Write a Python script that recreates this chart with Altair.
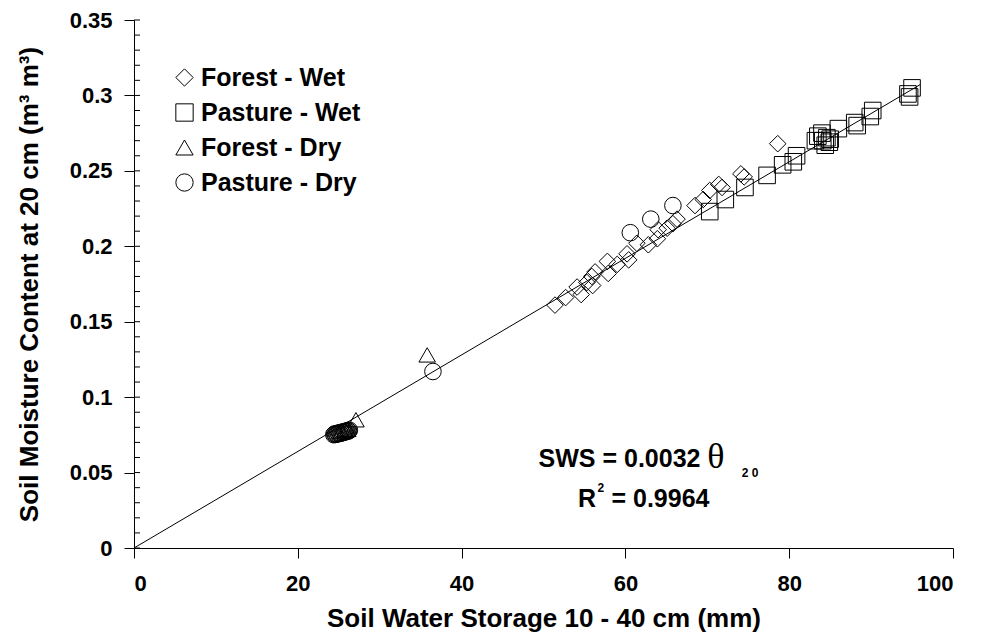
import altair as alt
import pandas as pd

# Forest - Wet (diamonds)
fw_x = [51.4, 52.7, 54.1, 54.6, 55.3, 55.9, 56.0, 56.3, 57.8, 57.9, 59.0, 60.2, 60.4,
        61.4, 62.8, 63.9, 64.0, 65.1, 65.8, 66.3, 68.5, 69.5, 70.3, 71.4, 71.8, 74.1,
        74.5, 78.6]
fw_y = [0.161, 0.166, 0.173, 0.168, 0.176, 0.180, 0.174, 0.183, 0.190, 0.182, 0.188,
        0.195, 0.191, 0.202, 0.201, 0.205, 0.211, 0.212, 0.215, 0.218, 0.227, 0.231,
        0.237, 0.241, 0.239, 0.248, 0.246, 0.268]

# Pasture - Wet (squares)
pw_x = [70.3, 72.2, 74.6, 77.3, 79.2, 80.5, 80.9, 83.2, 83.5, 84.0, 84.1, 84.4, 84.6,
        84.9, 85.0, 86.0, 88.0, 88.3, 89.9, 90.2, 94.5, 94.7, 95.0]
pw_y = [0.223, 0.231, 0.239, 0.247, 0.254, 0.256, 0.260, 0.270, 0.273, 0.275, 0.270,
        0.267, 0.272, 0.269, 0.271, 0.278, 0.282, 0.280, 0.286, 0.290, 0.301, 0.299,
        0.305]

# Forest - Dry (triangles)
fd_x = [25.3, 25.8, 26.1, 27.1, 35.8]
fd_y = [0.0775, 0.0780, 0.0786, 0.0850, 0.1280]

# Pasture - Dry (circles)
pd_x = [24.4, 24.5, 24.6, 24.7, 24.8, 24.9, 25.0, 25.1, 25.2, 25.3, 25.4, 25.5, 25.6,
        25.7, 25.8, 25.9, 26.0, 26.1, 26.2, 26.3, 36.5, 60.6, 63.1, 65.8]
pd_y = [0.0751, 0.0756, 0.0753, 0.0758, 0.0755, 0.0761, 0.0759, 0.0763, 0.0760, 0.0766,
        0.0764, 0.0769, 0.0766, 0.0772, 0.0770, 0.0775, 0.0773, 0.0778, 0.0776, 0.0781,
        0.117, 0.209, 0.218, 0.227]

series_names = ["Forest - Wet", "Pasture - Wet", "Forest - Dry", "Pasture - Dry"]
series_shapes = ["diamond", "square", "triangle-up", "circle"]

# Regression through the origin
slope = 0.0032
r_squared = 0.9964
fit_x = [0, 96]
fit_y = [slope * v for v in fit_x]

y_ticks = [0, 0.05, 0.1, 0.15, 0.2, 0.25, 0.3, 0.35]
y_minor = [i / 100 for i in range(0, 36)]
x_ticks = [0, 20, 40, 60, 80, 100]

rows = []
for name, xs, ys in zip(series_names, [fw_x, pw_x, fd_x, pd_x], [fw_y, pw_y, fd_y, pd_y]):
    for a, b in zip(xs, ys):
        rows.append({"sws": a, "theta": b, "series": name})
pts = pd.DataFrame(rows)
fit = pd.DataFrame({"sws": fit_x, "theta": fit_y})
minor = pd.DataFrame({"theta": y_minor})

W, H = 819, 528
FONT = "Liberation Sans"

x_scale = alt.Scale(domain=[0, 100], nice=False)
y_scale = alt.Scale(domain=[0, 0.35], nice=False)

x_axis = alt.Axis(title="Soil Water Storage 10 - 40 cm (mm)", values=x_ticks,
                  format="d", tickSize=10, labelPadding=15, titlePadding=11, grid=False)
y_axis = alt.Axis(title="Soil Moisture Content at 20 cm (m³ m³)",
                  values=y_ticks, labelExpr="format(datum.value, '~g')",
                  tickSize=10, labelPadding=12, titlePadding=27, grid=False)


def xq():
    return alt.X("sws:Q", scale=x_scale, axis=x_axis)


def yq():
    return alt.Y("theta:Q", scale=y_scale, axis=y_axis)


points = alt.Chart(pts).mark_point(filled=False, strokeWidth=1, color="black", opacity=1,
                                   size=275).encode(
    x=xq(),
    y=yq(),
    shape=alt.Shape("series:N", sort=series_names,
                    scale=alt.Scale(domain=series_names, range=series_shapes),
                    legend=alt.Legend(title=None, orient="none", legendX=38, legendY=45,
                                      labelFontSize=25, labelFont=FONT, labelFontWeight="bold",
                                      labelColor="black", symbolSize=300, symbolStrokeWidth=1,
                                      symbolStrokeColor="black", symbolFillColor="white",
                                      rowPadding=9, labelOffset=4, padding=0)),
)

line = alt.Chart(fit).mark_line(color="black", strokeWidth=1).encode(x=xq(), y=yq())

# Inner minor ticks along the left axis, every 0.01
minor_ticks = alt.Chart(minor).mark_rule(color="black", strokeWidth=1).encode(
    x=alt.value(0), x2=alt.value(6), y=yq(),
)

# Equation annotation placed in data space
ann = pd.DataFrame([
    {"sws": 49.4, "theta": 0.0537, "t": "SWS = " + f"{slope:.4f}"},
    {"sws": 54.2, "theta": 0.0272, "t": "R"},
    {"sws": 58.3, "theta": 0.0272, "t": "= " + f"{r_squared:.4f}"},
])
ann_main = alt.Chart(ann).mark_text(align="left", baseline="alphabetic", font=FONT,
                                     fontWeight="bold", fontSize=25, color="black").encode(
    x=xq(), y=yq(), text="t:N")

theta_sym = alt.Chart(pd.DataFrame({"sws": [70.0], "theta": [0.0530], "t": ["θ"]})).mark_text(
    align="left", baseline="alphabetic", font="Liberation Serif", fontSize=36,
    color="black").encode(x=xq(), y=yq(), text="t:N")

small = pd.DataFrame([
    {"sws": 74.2, "theta": 0.0468, "t": "2 0"},
    {"sws": 56.6, "theta": 0.0372, "t": "2"},
])
small_txt = alt.Chart(small).mark_text(align="left", baseline="alphabetic", font=FONT,
                                        fontWeight="bold", fontSize=12, color="black").encode(
    x=xq(), y=yq(), text="t:N")

chart = alt.layer(points, line, minor_ticks, ann_main, theta_sym, small_txt).properties(
    width=W, height=H,
    autosize=alt.AutoSizeParams(type="none"),
    padding={"left": 134, "top": 20, "right": 31, "bottom": 95},
    background="white",
).configure_view(stroke=None).configure_axis(
    domainColor="black", tickColor="black", labelColor="black", titleColor="black",
    labelFont=FONT, labelFontWeight="bold", labelFontSize=22,
    titleFont=FONT, titleFontWeight="bold", titleFontSize=26,
)

chart.save("out.html", embed_options={"renderer": "svg", "actions": False})
